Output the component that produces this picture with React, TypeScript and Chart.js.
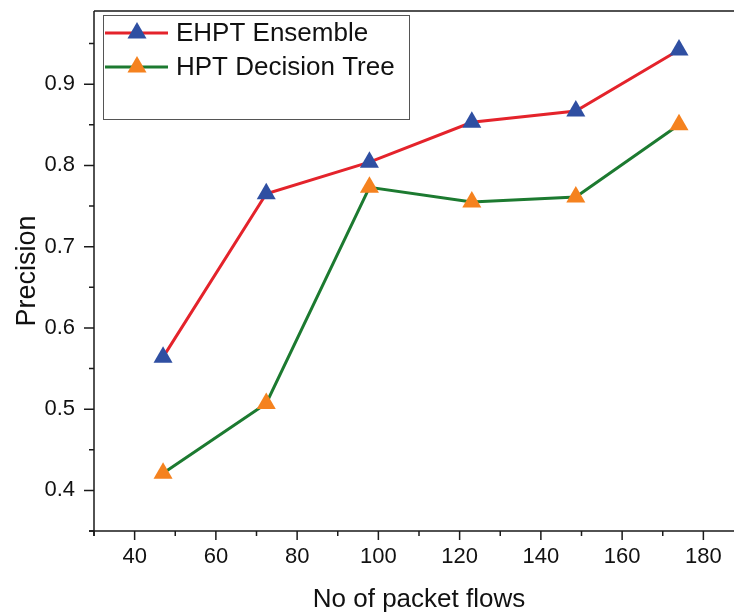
import React, { useEffect, useRef } from 'react';
import { Chart, registerables } from 'chart.js';

Chart.register(...registerables);

// ---- data ----
const packetFlows = [47, 72.4, 97.8, 123, 148.6, 174];
const ehptEnsemble = [0.564, 0.765, 0.804, 0.853, 0.867, 0.942];
const hptDecisionTree = [0.421, 0.507, 0.773, 0.755, 0.761, 0.85];
const seriesNames = ['EHPT Ensemble', 'HPT Decision Tree'];
const xMajorTicks = [40, 60, 80, 100, 120, 140, 160, 180];
const xMinorTicks = [30, 50, 70, 90, 110, 130, 150, 170, 190];
const yMajorTicks = [0.4, 0.5, 0.6, 0.7, 0.8, 0.9];
const yMinorTicks = [0.35, 0.45, 0.55, 0.65, 0.75, 0.85, 0.95];

const FONT = '"Liberation Sans", Arial, sans-serif';
const lineColors = ['#e4232b', '#1c7a30'];
const markerColors = ['#2f4fa2', '#f5821f'];

function triangle(ctx: CanvasRenderingContext2D, x: number, y: number, r: number) {
  let rad = 0;
  const T = (2 * Math.PI) / 3;
  ctx.beginPath();
  ctx.moveTo(x + Math.sin(rad) * r, y - Math.cos(rad) * r);
  rad += T;
  ctx.lineTo(x + Math.sin(rad) * r, y - Math.cos(rad) * r);
  rad += T;
  ctx.lineTo(x + Math.sin(rad) * r, y - Math.cos(rad) * r);
  ctx.closePath();
  ctx.fill();
}

const framePlugin = {
  id: 'frame',
  afterDraw(chart: any) {
    const { ctx, chartArea, scales } = chart;
    const xs = scales.x;
    const ys = scales.y;
    const { left, right, top, bottom } = chartArea;
    ctx.save();
    ctx.strokeStyle = '#1a1a1a';
    ctx.lineWidth = 1.5;
    ctx.beginPath();
    ctx.moveTo(left, top);
    ctx.lineTo(right, top);
    ctx.moveTo(right, top);
    ctx.lineTo(right, bottom);
    ctx.moveTo(left - 5, bottom);
    ctx.lineTo(right, bottom);
    ctx.moveTo(left, top);
    ctx.lineTo(left, bottom + 5);
    ctx.stroke();
    ctx.beginPath();
    xMajorTicks.forEach((v) => {
      const px = xs.getPixelForValue(v);
      ctx.moveTo(px, bottom);
      ctx.lineTo(px, bottom + 9);
    });
    xMinorTicks.forEach((v) => {
      const px = xs.getPixelForValue(v);
      ctx.moveTo(px, bottom);
      ctx.lineTo(px, bottom + 5);
    });
    yMajorTicks.forEach((v) => {
      const py = ys.getPixelForValue(v);
      ctx.moveTo(left, py);
      ctx.lineTo(left - 10, py);
    });
    yMinorTicks.forEach((v) => {
      const py = ys.getPixelForValue(v);
      ctx.moveTo(left, py);
      ctx.lineTo(left - 5, py);
    });
    ctx.stroke();

    // legend
    const bx = left + 9;
    const by = top + 4;
    ctx.strokeStyle = '#555';
    ctx.lineWidth = 1;
    ctx.strokeRect(bx + 0.5, by + 0.5, 306, 104);
    seriesNames.forEach((name, i) => {
      const cy = by + 18 + i * 34;
      ctx.strokeStyle = lineColors[i];
      ctx.lineWidth = 3;
      ctx.beginPath();
      ctx.moveTo(bx + 2, cy);
      ctx.lineTo(bx + 65, cy);
      ctx.stroke();
      ctx.fillStyle = markerColors[i];
      triangle(ctx, bx + 34, cy, 11);
      ctx.fillStyle = '#111';
      ctx.font = `26px ${FONT}`;
      ctx.textBaseline = 'middle';
      ctx.textAlign = 'left';
      ctx.fillText(name, bx + 73, cy + 1);
    });
    ctx.restore();
  },
};

export default function App() {
  const ref = useRef<HTMLCanvasElement | null>(null);
  useEffect(() => {
    if (!ref.current) return;
    const chart = new Chart(ref.current, {
      type: 'line',
      data: {
        datasets: [
          {
            label: seriesNames[0],
            data: packetFlows.map((x, i) => ({ x, y: ehptEnsemble[i] })),
            borderColor: lineColors[0],
            backgroundColor: markerColors[0],
            borderWidth: 3,
            pointStyle: 'triangle',
            pointRadius: 11,
            pointBorderWidth: 0,
            pointBackgroundColor: markerColors[0],
            pointBorderColor: markerColors[0],
            tension: 0,
          },
          {
            label: seriesNames[1],
            data: packetFlows.map((x, i) => ({ x, y: hptDecisionTree[i] })),
            borderColor: lineColors[1],
            backgroundColor: markerColors[1],
            borderWidth: 3,
            pointStyle: 'triangle',
            pointRadius: 11,
            pointBorderWidth: 0,
            pointBackgroundColor: markerColors[1],
            pointBorderColor: markerColors[1],
            tension: 0,
          },
        ],
      },
      options: {
        animation: false,
        responsive: false,
        maintainAspectRatio: false,
        layout: { padding: { left: 0, top: 6, right: 16, bottom: 0 } },
        plugins: { legend: { display: false }, tooltip: { enabled: false } },
        scales: {
          x: {
            type: 'linear',
            min: 30,
            max: 190,
            grid: { display: false, tickLength: 8 },
            border: { display: false },
            afterBuildTicks: (s: any) => {
              s.ticks = xMajorTicks.map((v) => ({ value: v }));
            },
            afterFit: (s: any) => {
              s.height = 84;
              s.paddingLeft = 0;
              s.paddingRight = 0;
            },
            ticks: {
              color: '#111',
              font: { family: FONT, size: 22 },
              padding: 5,
              maxRotation: 0,
              autoSkip: false,
              callback: (v: any) => String(v),
            },
            title: {
              display: true,
              text: 'No of packet flows',
              color: '#111',
              font: { family: FONT, size: 26 },
              padding: { top: 0, bottom: 0 },
            },
          },
          y: {
            type: 'linear',
            min: 0.35,
            max: 0.99,
            grid: { display: false, tickLength: 8 },
            border: { display: false },
            afterBuildTicks: (s: any) => {
              s.ticks = yMajorTicks.map((v) => ({ value: v }));
            },
            afterFit: (s: any) => {
              s.width = 94;
              s.paddingTop = 0;
              s.paddingBottom = 0;
            },
            ticks: {
              color: '#111',
              font: { family: FONT, size: 22 },
              padding: 11,
              autoSkip: false,
              callback: (v: any) => Number(v).toFixed(1),
            },
            title: {
              display: true,
              text: 'Precision',
              color: '#111',
              font: { family: FONT, size: 27 },
              padding: { top: 11, bottom: 0 },
            },
          },
        },
      },
      plugins: [framePlugin],
    });
    return () => chart.destroy();
  }, []);
  return (
    <div style={{ position: 'fixed', left: 0, top: 0, width: 760, height: 615, background: '#fff' }}>
      <canvas ref={ref} width={760} height={615} style={{ width: 760, height: 615, display: 'block' }} />
    </div>
  );
}
